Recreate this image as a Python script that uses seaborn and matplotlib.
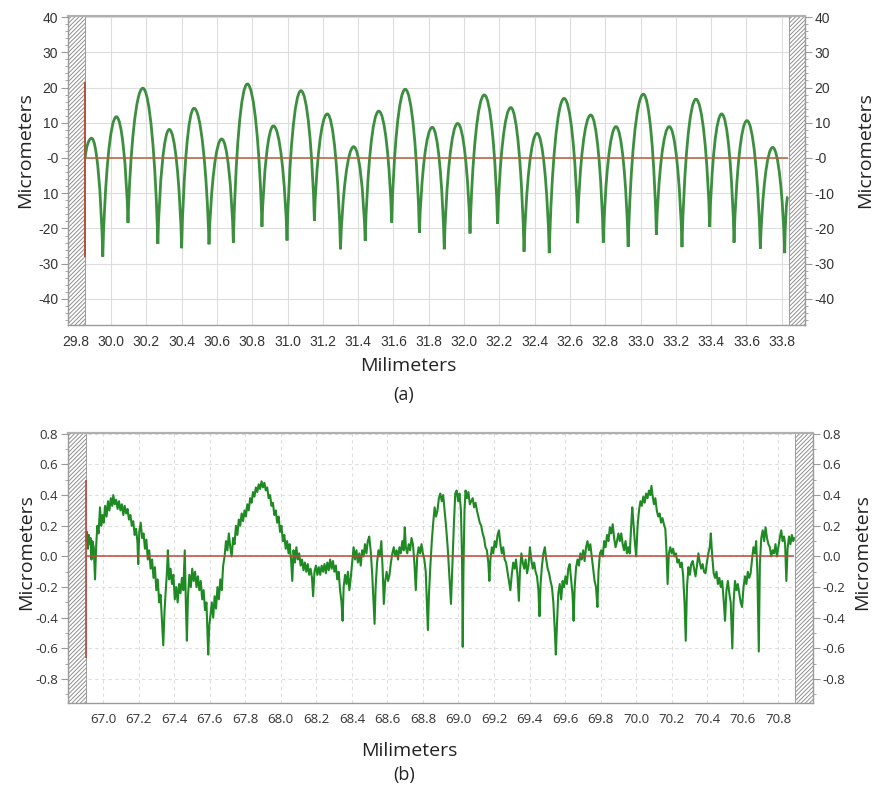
import matplotlib
matplotlib.use("Agg")
import matplotlib.pyplot as plt
import seaborn as sns
from matplotlib.path import Path
from matplotlib.patches import PathPatch
from matplotlib.ticker import MultipleLocator

# ---- (a) scalloped profile: start, then alternating peak / cusp, then end
a_mm = [29.853, 29.890, 29.953, 30.030, 30.096, 30.180, 30.265, 30.330, 30.400, 30.470,
        30.555, 30.627, 30.693, 30.772, 30.855, 30.920, 30.997, 31.076, 31.152, 31.225,
        31.300, 31.375, 31.440, 31.517, 31.590, 31.667, 31.747, 31.820, 31.888, 31.964,
        32.034, 32.115, 32.190, 32.265, 32.340, 32.414, 32.483, 32.567, 32.644, 32.718,
        32.789, 32.861, 32.930, 33.016, 33.090, 33.163, 33.235, 33.314, 33.392, 33.460,
        33.530, 33.603, 33.679, 33.749, 33.817, 33.835]
a_um = [0.0, 5.6, -28.0, 11.7, -18.4, 19.8, -24.4, 8.1, -25.6, 14.1,
        -24.5, 5.4, -24.0, 21.0, -19.5, 9.1, -23.4, 19.1, -17.8, 12.5,
        -25.9, 3.2, -23.5, 13.3, -18.3, 19.5, -21.2, 8.7, -25.9, 9.8,
        -21.4, 17.9, -18.7, 14.3, -26.6, 7.0, -27.0, 16.9, -18.5, 12.2,
        -24.0, 8.9, -25.2, 18.1, -21.8, 8.9, -25.3, 16.7, -19.5, 12.5,
        -24.0, 10.6, -25.7, 3.0, -27.0, -11.0]
a_xticks = [29.8, 30.0, 30.2, 30.4, 30.6, 30.8, 31.0, 31.2, 31.4, 31.6, 31.8,
            32.0, 32.2, 32.4, 32.6, 32.8, 33.0, 33.2, 33.4, 33.6, 33.8]
a_xlabels = ["29.8", "30.0", "30.2", "30.4", "30.6", "30.8", "31.0", "31.2", "31.4", "31.6", "31.8",
             "32.0", "32.2", "32.4", "32.6", "32.8", "33.0", "33.2", "33.4", "33.6", "33.8"]
a_yticks = [40, 30, 20, 10, 0, -10, -20, -30, -40]
a_left_labels = ["40", "30", "20", "10", "-0", "10", "-20", "-30", "-40"]
a_right_labels = ["40", "30", "20", "10", "-0", "-10", "-20", "-30", "-40"]

# ---- (b) residual roughness profile
b_mm = [66.904, 66.910, 66.915, 66.920, 66.925, 66.930, 66.935, 66.940, 66.948, 66.955,
        66.962, 66.968, 66.975, 66.983, 66.990, 66.997, 67.004, 67.012, 67.020, 67.028,
        67.036, 67.044, 67.052, 67.058, 67.066, 67.074, 67.082, 67.090, 67.098, 67.106,
        67.114, 67.122, 67.130, 67.138, 67.146, 67.154, 67.162, 67.170, 67.178, 67.186,
        67.194, 67.198, 67.204, 67.212, 67.220, 67.228, 67.236, 67.244, 67.252, 67.260,
        67.268, 67.276, 67.284, 67.292, 67.300, 67.308, 67.316, 67.324, 67.332, 67.339,
        67.346, 67.352, 67.360, 67.365, 67.372, 67.380, 67.388, 67.396, 67.404, 67.412,
        67.420, 67.428, 67.436, 67.444, 67.452, 67.460, 67.466, 67.472, 67.478, 67.486,
        67.494, 67.502, 67.510, 67.518, 67.526, 67.534, 67.542, 67.550, 67.558, 67.566,
        67.574, 67.582, 67.588, 67.592, 67.598, 67.605, 67.612, 67.620, 67.628, 67.636,
        67.644, 67.652, 67.660, 67.668, 67.676, 67.684, 67.692, 67.700, 67.708, 67.716,
        67.724, 67.732, 67.740, 67.748, 67.756, 67.764, 67.772, 67.780, 67.788, 67.796,
        67.804, 67.812, 67.820, 67.828, 67.836, 67.844, 67.852, 67.860, 67.868, 67.876,
        67.884, 67.892, 67.900, 67.908, 67.916, 67.924, 67.932, 67.940, 67.948, 67.956,
        67.964, 67.972, 67.980, 67.988, 67.996, 68.004, 68.012, 68.020, 68.028, 68.036,
        68.044, 68.050, 68.058, 68.065, 68.072, 68.080, 68.088, 68.096, 68.104, 68.112,
        68.120, 68.128, 68.136, 68.144, 68.152, 68.160, 68.168, 68.176, 68.182, 68.190,
        68.198, 68.206, 68.214, 68.222, 68.230, 68.238, 68.246, 68.254, 68.262, 68.270,
        68.278, 68.286, 68.294, 68.302, 68.310, 68.318, 68.326, 68.334, 68.342, 68.348,
        68.354, 68.362, 68.370, 68.378, 68.386, 68.394, 68.402, 68.410, 68.418, 68.426,
        68.434, 68.442, 68.450, 68.458, 68.466, 68.474, 68.482, 68.490, 68.498, 68.506,
        68.514, 68.522, 68.528, 68.534, 68.542, 68.550, 68.558, 68.566, 68.574, 68.580,
        68.588, 68.596, 68.604, 68.612, 68.620, 68.628, 68.636, 68.644, 68.652, 68.660,
        68.668, 68.676, 68.684, 68.692, 68.698, 68.704, 68.712, 68.720, 68.728, 68.736,
        68.744, 68.752, 68.760, 68.768, 68.776, 68.784, 68.792, 68.800, 68.808, 68.816,
        68.822, 68.828, 68.834, 68.842, 68.850, 68.858, 68.866, 68.874, 68.882, 68.890,
        68.898, 68.906, 68.914, 68.922, 68.930, 68.940, 68.950, 68.958, 68.966, 68.974,
        68.982, 68.990, 68.998, 69.006, 69.014, 69.020, 69.024, 69.028, 69.034, 69.040,
        69.048, 69.056, 69.064, 69.072, 69.080, 69.088, 69.096, 69.104, 69.112, 69.120,
        69.128, 69.136, 69.144, 69.152, 69.160, 69.168, 69.174, 69.180, 69.188, 69.196,
        69.204, 69.212, 69.220, 69.228, 69.236, 69.244, 69.252, 69.260, 69.268, 69.276,
        69.284, 69.292, 69.300, 69.308, 69.316, 69.324, 69.332, 69.340, 69.346, 69.354,
        69.362, 69.370, 69.378, 69.386, 69.394, 69.402, 69.410, 69.418, 69.426, 69.434,
        69.442, 69.450, 69.456, 69.462, 69.470, 69.478, 69.486, 69.494, 69.502, 69.510,
        69.518, 69.526, 69.534, 69.542, 69.548, 69.554, 69.562, 69.570, 69.578, 69.586,
        69.594, 69.602, 69.610, 69.618, 69.626, 69.634, 69.642, 69.648, 69.654, 69.662,
        69.670, 69.678, 69.686, 69.694, 69.702, 69.710, 69.718, 69.726, 69.734, 69.742,
        69.750, 69.758, 69.766, 69.774, 69.782, 69.788, 69.796, 69.804, 69.812, 69.820,
        69.828, 69.836, 69.844, 69.852, 69.860, 69.868, 69.876, 69.884, 69.892, 69.900,
        69.908, 69.916, 69.924, 69.932, 69.940, 69.948, 69.956, 69.964, 69.972, 69.978,
        69.984, 69.992, 70.000, 70.008, 70.016, 70.024, 70.032, 70.040, 70.048, 70.056,
        70.064, 70.072, 70.080, 70.086, 70.092, 70.100, 70.108, 70.116, 70.124, 70.132,
        70.140, 70.148, 70.156, 70.164, 70.170, 70.177, 70.184, 70.192, 70.200, 70.208,
        70.216, 70.224, 70.232, 70.240, 70.248, 70.256, 70.264, 70.272, 70.279, 70.286,
        70.294, 70.302, 70.310, 70.318, 70.326, 70.334, 70.342, 70.350, 70.358, 70.366,
        70.374, 70.382, 70.390, 70.398, 70.406, 70.414, 70.420, 70.428, 70.436, 70.444,
        70.452, 70.460, 70.468, 70.476, 70.484, 70.492, 70.500, 70.508, 70.516, 70.524,
        70.532, 70.541, 70.548, 70.556, 70.564, 70.572, 70.580, 70.588, 70.596, 70.604,
        70.612, 70.620, 70.628, 70.636, 70.644, 70.652, 70.660, 70.668, 70.675, 70.682,
        70.690, 70.696, 70.704, 70.712, 70.720, 70.728, 70.736, 70.744, 70.752, 70.760,
        70.768, 70.776, 70.784, 70.792, 70.800, 70.808, 70.816, 70.824, 70.832, 70.838,
        70.845, 70.852, 70.860, 70.868, 70.876, 70.884, 70.888]
b_um = [0.10, 0.16, 0.05, 0.14, 0.08, 0.12, -0.02, 0.10, 0.06, -0.15,
        0.08, 0.20, 0.15, 0.32, 0.20, 0.27, 0.22, 0.33, 0.26, 0.36,
        0.30, 0.38, 0.33, 0.40, 0.34, 0.37, 0.31, 0.36, 0.30, 0.34,
        0.27, 0.33, 0.28, 0.31, 0.24, 0.27, 0.20, 0.23, 0.14, 0.18,
        0.09, -0.05, 0.16, 0.22, 0.12, 0.15, 0.05, 0.11, -0.02, 0.04,
        -0.08, -0.02, -0.14, -0.07, -0.22, -0.15, -0.30, -0.25, -0.42, -0.58,
        -0.36, -0.24, -0.10, 0.04, -0.15, -0.08, -0.18, -0.12, -0.28, -0.20,
        -0.30, -0.18, -0.24, -0.14, -0.22, 0.04, -0.30, -0.55, -0.26, -0.12,
        -0.20, -0.08, -0.16, -0.10, -0.20, -0.13, -0.22, -0.16, -0.28, -0.22,
        -0.35, -0.30, -0.50, -0.64, -0.45, -0.38, -0.30, -0.40, -0.26, -0.34,
        -0.20, -0.28, -0.15, -0.22, -0.06, 0.00, 0.10, 0.04, 0.15, 0.06,
        0.00, 0.12, 0.08, 0.20, 0.14, 0.24, 0.20, 0.28, 0.23, 0.30,
        0.26, 0.34, 0.30, 0.38, 0.35, 0.42, 0.39, 0.45, 0.42, 0.47,
        0.44, 0.49, 0.45, 0.48, 0.43, 0.45, 0.38, 0.40, 0.33, 0.35,
        0.27, 0.30, 0.22, 0.26, 0.16, 0.20, 0.10, 0.14, 0.05, 0.10,
        0.02, 0.08, -0.02, -0.16, 0.04, -0.04, 0.06, -0.02, 0.02, -0.06,
        -0.02, -0.09, -0.04, -0.10, -0.05, -0.12, -0.08, -0.14, -0.26, -0.10,
        -0.06, -0.12, -0.07, -0.12, -0.06, -0.10, -0.05, -0.11, -0.04, -0.09,
        -0.02, -0.08, -0.03, -0.10, -0.06, -0.15, -0.10, -0.22, -0.30, -0.42,
        -0.20, -0.12, -0.18, -0.10, -0.22, -0.14, -0.04, 0.06, -0.02, 0.04,
        -0.04, 0.02, -0.06, 0.04, 0.00, 0.08, 0.02, 0.10, 0.13, 0.04,
        -0.10, -0.30, -0.44, -0.20, -0.04, 0.04, 0.00, 0.10, -0.10, -0.31,
        -0.16, -0.10, -0.16, -0.12, -0.04, 0.02, 0.06, 0.00, 0.04, -0.02,
        0.06, 0.02, 0.10, 0.04, 0.19, 0.06, 0.02, 0.08, 0.04, 0.12,
        0.08, -0.04, -0.22, 0.00, 0.06, 0.02, 0.08, 0.02, -0.02, -0.10,
        -0.30, -0.48, -0.25, -0.06, 0.10, 0.22, 0.32, 0.26, 0.30, 0.38,
        0.41, 0.36, 0.40, 0.30, 0.20, 0.05, -0.15, -0.31, -0.05, 0.20,
        0.41, 0.43, 0.36, 0.41, 0.30, 0.00, -0.59, -0.10, 0.30, 0.43,
        0.38, 0.42, 0.34, 0.36, 0.38, 0.32, 0.35, 0.30, 0.26, 0.22,
        0.20, 0.15, 0.12, 0.06, 0.04, -0.04, -0.16, -0.02, 0.06, 0.02,
        0.10, 0.06, 0.14, 0.17, 0.08, 0.02, 0.06, -0.02, -0.04, -0.10,
        -0.16, -0.22, -0.12, -0.04, -0.08, -0.02, -0.12, -0.29, -0.10, 0.02,
        -0.04, -0.08, -0.02, -0.11, -0.06, 0.06, -0.02, -0.08, -0.04, -0.10,
        -0.13, -0.22, -0.39, -0.18, -0.06, 0.02, 0.06, -0.02, -0.08, -0.11,
        -0.16, -0.20, -0.30, -0.48, -0.64, -0.45, -0.24, -0.18, -0.28, -0.16,
        -0.20, -0.13, -0.18, -0.08, -0.05, -0.15, -0.25, -0.42, -0.20, -0.07,
        -0.02, -0.06, 0.02, -0.02, 0.04, -0.03, 0.06, 0.10, 0.04, 0.08,
        0.00, -0.08, -0.16, -0.20, -0.33, -0.10, 0.02, 0.04, 0.00, 0.10,
        0.06, 0.14, 0.10, 0.19, 0.15, 0.21, 0.12, 0.06, 0.10, 0.15,
        0.10, 0.15, 0.08, 0.04, 0.10, 0.02, 0.06, 0.02, 0.20, 0.32,
        0.23, 0.10, 0.00, 0.20, 0.30, 0.36, 0.33, 0.39, 0.35, 0.41,
        0.38, 0.43, 0.40, 0.46, 0.40, 0.34, 0.38, 0.30, 0.26, 0.28,
        0.22, 0.25, 0.21, 0.18, 0.05, -0.18, 0.02, 0.06, 0.02, 0.05,
        0.00, 0.02, -0.04, -0.02, -0.07, -0.04, -0.12, -0.30, -0.55, -0.20,
        -0.07, -0.12, -0.05, -0.03, -0.08, -0.13, -0.06, 0.02, -0.04, -0.08,
        -0.05, -0.10, -0.11, -0.04, 0.02, 0.06, 0.15, 0.00, -0.11, -0.14,
        -0.10, -0.18, -0.14, -0.20, -0.16, -0.28, -0.42, -0.22, -0.16, -0.24,
        -0.30, -0.60, -0.30, -0.16, -0.22, -0.18, -0.24, -0.30, -0.33, -0.20,
        -0.13, -0.18, -0.10, -0.14, -0.11, -0.02, 0.06, 0.02, 0.10, -0.10,
        -0.62, -0.05, 0.12, 0.17, 0.10, 0.19, 0.12, 0.08, 0.06, 0.00,
        0.04, 0.02, 0.08, 0.00, 0.06, 0.12, 0.17, 0.10, 0.13, 0.08,
        -0.16, 0.05, 0.13, 0.08, 0.14, 0.10, 0.12]
b_xticks = [67.0, 67.2, 67.4, 67.6, 67.8, 68.0, 68.2, 68.4, 68.6, 68.8,
            69.0, 69.2, 69.4, 69.6, 69.8, 70.0, 70.2, 70.4, 70.6, 70.8]
b_xlabels = ["67.0", "67.2", "67.4", "67.6", "67.8", "68.0", "68.2", "68.4", "68.6", "68.8",
             "69.0", "69.2", "69.4", "69.6", "69.8", "70.0", "70.2", "70.4", "70.6", "70.8"]
b_yticks = [0.8, 0.6, 0.4, 0.2, 0.0, -0.2, -0.4, -0.6, -0.8]
b_ylabels = ["0.8", "0.6", "0.4", "0.2", "0.0", "-0.2", "-0.4", "-0.6", "-0.8"]

assert len(a_mm) == len(a_um) and len(b_mm) == len(b_um)

sns.set_style("white")
plt.rcParams["font.family"] = ["Open Sans", "DejaVu Sans"]
plt.rcParams["hatch.linewidth"] = 0.7

W, H = 873, 792
fig = plt.figure(figsize=(W / 100, H / 100), dpi=100)
ax1 = fig.add_axes([68 / W, 1 - 325 / H, (805 - 68) / W, (325 - 16) / H])
ax2 = fig.add_axes([68 / W, 1 - 703 / H, (813 - 68) / W, (703 - 433) / H])

spine_col = "#9a9a9a"
hatch_kw = dict(facecolor="white", edgecolor="#8f8f8f", hatch="/" * 8, lw=0.6, zorder=1)


def style_axis(ax, grid_ls, tick_font, size):
    ax.set_axisbelow(True)
    ax.grid(True, which="major", color="#dedede", lw=0.8, ls=grid_ls)
    for s in ax.spines.values():
        s.set_color(spine_col)
        s.set_linewidth(1.0)
    ax.spines["top"].set_linewidth(1.6)
    ax.spines["top"].set_color("#b0b0b0")
    ax.tick_params(which="major", direction="out", length=5, width=0.8, color=spine_col,
                   labelcolor="#333333", labelsize=size, pad=2)
    ax.tick_params(which="minor", direction="out", length=2.5, width=0.6, color=spine_col)
    for lab in ax.get_xticklabels() + ax.get_yticklabels():
        lab.set_family(tick_font)


def right_axis(ax, ticks, labels, minor, font, size):
    axr = ax.twinx()
    axr.set_ylim(ax.get_ylim())
    axr.set_yticks(ticks)
    axr.set_yticklabels(labels)
    axr.yaxis.set_minor_locator(MultipleLocator(minor))
    axr.grid(False)
    for s in axr.spines.values():
        s.set_visible(False)
    axr.tick_params(which="major", direction="out", length=5, width=0.8, color=spine_col,
                    labelcolor="#333333", labelsize=size, pad=2)
    axr.tick_params(which="minor", direction="out", length=2.5, width=0.6, color=spine_col)
    for lab in axr.get_yticklabels():
        lab.set_family(font)
    return axr


# ---------------- (a)
ax1.set_xlim(29.756, 33.932)
ax1.set_ylim(-47.4, 40.3)
ax1.set_xticks(a_xticks)
ax1.set_xticklabels(a_xlabels)
ax1.set_yticks(a_yticks)
ax1.set_yticklabels(a_left_labels)
ax1.xaxis.set_minor_locator(MultipleLocator(0.04))
ax1.yaxis.set_minor_locator(MultipleLocator(2))

# hatched non-measured ends
ax1.axvspan(29.756, a_mm[0], **hatch_kw)
ax1.axvspan(a_mm[-1] + 0.005, 33.932, **hatch_kw)

# scallops: each cusp-to-peak span drawn as a smooth arch
verts = [(a_mm[0], a_um[0])]
codes = [Path.MOVETO]
for i in range(1, len(a_mm)):
    x0, y0, x1, y1 = a_mm[i - 1], a_um[i - 1], a_mm[i], a_um[i]
    dx = x1 - x0
    if y1 > y0:
        c1 = (x0 + 0.15 * dx, y0 + 0.55 * (y1 - y0))
        c2 = (x1 - 0.45 * dx, y1)
    else:
        c1 = (x0 + 0.45 * dx, y0)
        c2 = (x1 - 0.15 * dx, y1 + 0.55 * (y0 - y1))
    verts += [c1, c2, (x1, y1)]
    codes += [Path.CURVE4] * 3
arch = Path(verts, codes)
ax1.add_patch(PathPatch(arch, fill=False, edgecolor="#3c8f3f", lw=2.0, zorder=3))

ax1.hlines(0, a_mm[0], a_mm[-1], color="#b5603a", lw=1.1, zorder=4)
ax1.vlines(a_mm[0], min(a_um), max(a_um) + 0.5, color="#b5503a", lw=1.4, zorder=4)
style_axis(ax1, "-", "Liberation Sans", 10)
right_axis(ax1, a_yticks, a_right_labels, 2, "Liberation Sans", 10)

# ---------------- (b)
ax2.set_xlim(66.803, 70.995)
ax2.set_ylim(-0.956, 0.805)
ax2.set_xticks(b_xticks)
ax2.set_xticklabels(b_xlabels)
ax2.set_yticks(b_yticks)
ax2.set_yticklabels(b_ylabels)
ax2.xaxis.set_minor_locator(MultipleLocator(0.04))
ax2.yaxis.set_minor_locator(MultipleLocator(0.1))

ax2.axvspan(66.803, b_mm[0], **hatch_kw)
ax2.axvspan(b_mm[-1] + 0.008, 70.995, **hatch_kw)

sns.lineplot(x=b_mm, y=b_um, ax=ax2, color="#1f8a24", lw=1.5, estimator=None, sort=False, zorder=3)
ax2.hlines(0, b_mm[0], b_mm[-1], color="#c0463c", lw=1.1, zorder=4)
ax2.vlines(b_mm[0], min(b_um) - 0.02, max(b_um) + 0.01, color="#c0463c", lw=1.2, zorder=4)
style_axis(ax2, (0, (3, 3)), "Open Sans", 9.5)
right_axis(ax2, b_yticks, b_ylabels, 0.1, "Open Sans", 9.5)

# ---------------- labels
lab_kw = dict(fontsize=14, color="#222222", ha="center", va="center")
fig.text(25 / W, 1 - 150 / H, "Micrometers", rotation=90, **lab_kw)
fig.text(865 / W, 1 - 150 / H, "Micrometers", rotation=90, **lab_kw)
fig.text(408 / W, 1 - 366 / H, "Milimeters", **lab_kw)
fig.text(404 / W, 1 - 395 / H, "(a)", fontsize=13, color="#222222", ha="center", va="center")

fig.text(26 / W, 1 - 552 / H, "Micrometers", rotation=90, **lab_kw)
fig.text(862 / W, 1 - 552 / H, "Micrometers", rotation=90, **lab_kw)
fig.text(409 / W, 1 - 751 / H, "Milimeters", **lab_kw)
fig.text(404 / W, 1 - 775 / H, "(b)", fontsize=13, color="#222222", ha="center", va="center")

fig.savefig("out.png", dpi=100, facecolor="white")
